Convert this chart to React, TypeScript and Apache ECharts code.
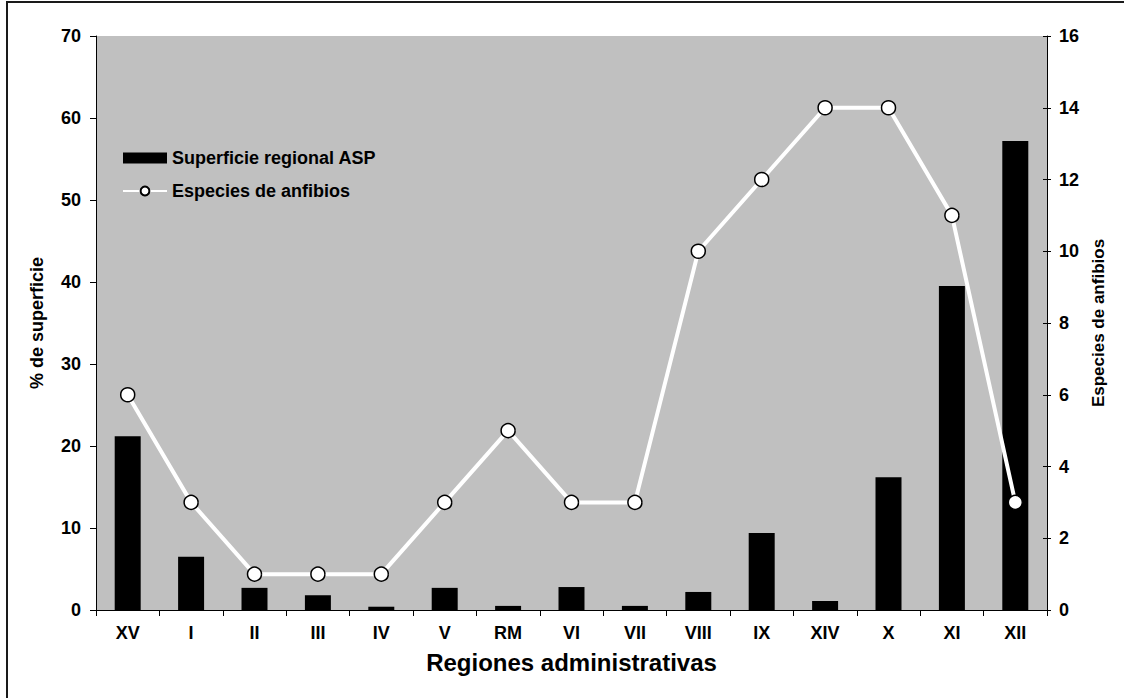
import React, { useEffect, useRef } from "react";
import * as echarts from "echarts";

const regiones = ["XV", "I", "II", "III", "IV", "V", "RM", "VI", "VII", "VIII", "IX", "XIV", "X", "XI", "XII"];
const superficieASP = [21.2, 6.5, 2.7, 1.8, 0.4, 2.7, 0.5, 2.8, 0.5, 2.2, 9.4, 1.1, 16.2, 39.5, 57.2];
const especiesAnfibios = [6, 3, 1, 1, 1, 3, 5, 3, 3, 10, 12, 14, 14, 11, 3];

const FONT = "'Liberation Sans', Arial, Helvetica, sans-serif";

export default function App() {
  const ref = useRef<HTMLDivElement>(null);
  useEffect(() => {
    if (!ref.current) return;
    const chart = echarts.init(ref.current, null, { renderer: "svg" });
    chart.setOption({
      animation: false,
      backgroundColor: "#ffffff",
      textStyle: { fontFamily: FONT, fontWeight: "bold", color: "#000" },
      grid: {
        left: 96,
        top: 36,
        width: 951,
        height: 574,
        show: true,
        backgroundColor: "#C0C0C0",
        borderWidth: 0,
      },
      legend: {
        orient: "vertical",
        left: 117,
        top: 144,
        itemWidth: 44,
        itemHeight: 11,
        itemGap: 15,
        textStyle: { fontFamily: FONT, fontWeight: "bold", fontSize: 18, color: "#000" },
        data: [
          { name: "Superficie regional ASP", icon: "rect" },
          { name: "Especies de anfibios" },
        ],
      },
      xAxis: {
        type: "category",
        data: regiones,
        boundaryGap: true,
        name: "Regiones administrativas",
        nameLocation: "middle",
        nameGap: 40,
        nameTextStyle: { fontFamily: FONT, fontWeight: "bold", fontSize: 24, color: "#000" },
        axisLine: { lineStyle: { color: "#000", width: 1 } },
        axisTick: { show: true, length: 6, alignWithLabel: false, lineStyle: { color: "#000" } },
        axisLabel: { fontFamily: FONT, fontWeight: "bold", fontSize: 18, color: "#000", margin: 14 },
      },
      yAxis: [
        {
          type: "value",
          min: 0,
          max: 70,
          interval: 10,
          name: "% de superficie",
          nameLocation: "middle",
          nameGap: 50,
          nameTextStyle: { fontFamily: FONT, fontWeight: "bold", fontSize: 18, color: "#000" },
          axisLine: { show: true, lineStyle: { color: "#000", width: 1 } },
          axisTick: { show: true, length: 6, lineStyle: { color: "#000" } },
          axisLabel: { fontFamily: FONT, fontWeight: "bold", fontSize: 18, color: "#000", margin: 15 },
          splitLine: { show: false },
        },
        {
          type: "value",
          min: 0,
          max: 16,
          interval: 2,
          position: "right",
          name: "Especies de anfibios",
          nameLocation: "middle",
          nameGap: 42,
          nameTextStyle: { fontFamily: FONT, fontWeight: "bold", fontSize: 17, color: "#000" },
          axisLine: { show: true, lineStyle: { color: "#000", width: 1 } },
          axisTick: { show: true, length: 4, lineStyle: { color: "#000" } },
          axisLabel: { fontFamily: FONT, fontWeight: "bold", fontSize: 18, color: "#000", margin: 12 },
          splitLine: { show: false },
        },
        {
          type: "value",
          min: 0,
          max: 16,
          interval: 2,
          position: "right",
          axisLine: { show: false },
          axisTick: { show: true, inside: true, length: 4, lineStyle: { color: "#000" } },
          axisLabel: { show: false },
          splitLine: { show: false },
        },
      ],
      series: [
        {
          name: "Superficie regional ASP",
          type: "bar",
          data: superficieASP,
          yAxisIndex: 0,
          barWidth: "41%",
          itemStyle: { color: "#000" },
        },
        {
          name: "Especies de anfibios",
          type: "line",
          data: especiesAnfibios,
          yAxisIndex: 1,
          symbol: "circle",
          symbolSize: 14,
          lineStyle: { color: "#ffffff", width: 4 },
          itemStyle: { color: "#ffffff", borderColor: "#000", borderWidth: 1.5 },
        },
      ],
      graphic: [
        {
          type: "rect",
          shape: { x: 7, y: 2, width: 1300, height: 900 },
          style: { fill: "none", stroke: "#1a1a1a", lineWidth: 2 },
          silent: true,
        },
      ],
    });
    return () => chart.dispose();
  }, []);
  return (
    <div
      ref={ref}
      style={{ position: "absolute", left: 0, top: 0, width: 1124, height: 698 }}
    />
  );
}
